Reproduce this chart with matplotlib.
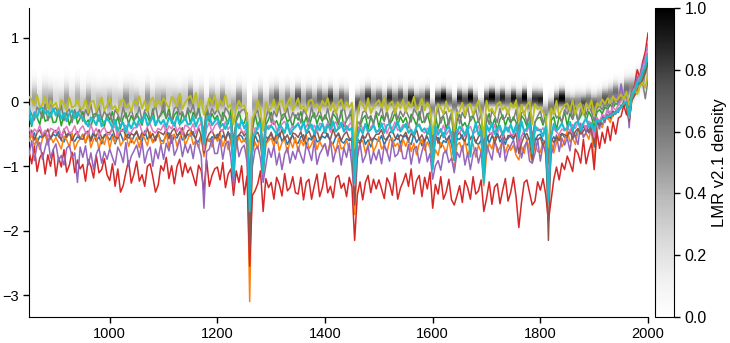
import numpy as np
import matplotlib
matplotlib.use("Agg")
import matplotlib.pyplot as plt

plt.rcParams['font.family'] = ['Liberation Sans', 'DejaVu Sans']
plt.rcParams['font.size'] = 10.5

# reconstruction years, 5-year steps
years = np.arange(850, 2001, 5)

# temperature anomaly reconstructions (degC), one list per reconstruction
c0 = [-0.61, -0.51, -0.48, -0.64, -0.53, -0.56, -0.46, -0.59, -0.57, -0.50,
      -0.53, -0.46, -0.60, -0.62, -0.51, -0.47, -0.58, -0.61, -0.54, -0.57,
      -0.50, -0.63, -0.52, -0.57, -0.46, -0.61, -0.54, -0.65, -0.51, -0.53,
      -0.59, -0.50, -0.65, -0.54, -0.49, -0.60, -0.57, -0.48, -0.63, -0.53,
      -0.47, -0.57, -0.61, -0.45, -0.58, -0.51, -0.63, -0.54, -0.49, -0.60,
      -0.61, -0.51, -0.48, -0.64, -0.53, -0.56, -0.46, -0.59, -0.57, -0.50,
      -0.53, -0.46, -0.60, -0.62, -0.51, -0.80, -0.58, -0.61, -0.54, -0.57,
      -0.50, -0.63, -0.52, -0.57, -0.46, -0.61, -0.95, -0.65, -0.51, -0.53,
      -0.61, -0.52, -1.60, -0.70, -0.51, -0.62, -0.59, -1.00, -0.65, -0.55,
      -0.50, -0.60, -0.64, -0.48, -0.61, -0.54, -0.66, -0.57, -0.52, -0.63,
      -0.64, -0.54, -0.51, -0.67, -0.56, -0.59, -0.49, -0.62, -0.60, -0.53,
      -0.56, -0.49, -0.63, -0.65, -0.54, -0.50, -0.61, -0.64, -0.57, -0.60,
      -0.55, -1.40, -0.57, -0.62, -0.51, -0.66, -0.59, -0.70, -0.56, -0.58,
      -0.61, -0.52, -0.67, -0.56, -0.51, -0.62, -0.59, -0.50, -0.65, -0.55,
      -0.52, -0.62, -0.66, -0.50, -0.63, -0.56, -0.68, -0.59, -0.54, -0.65,
      -0.95, -0.58, -0.55, -0.71, -0.60, -0.63, -0.53, -0.66, -0.90, -0.57,
      -0.58, -0.51, -0.65, -0.67, -0.56, -0.52, -0.63, -0.66, -0.59, -1.10,
      -0.51, -0.64, -0.53, -0.58, -0.47, -0.62, -0.55, -0.66, -0.52, -0.54,
      -0.58, -0.49, -0.75, -0.53, -0.48, -0.59, -0.56, -0.85, -0.62, -0.52,
      -0.50, -0.60, -0.64, -1.30, -0.61, -0.54, -0.62, -0.53, -0.49, -0.55,
      -0.55, -0.46, -0.43, -0.55, -0.44, -0.46, -0.37, -0.47, -0.43, -0.36,
      -0.70, -0.34, -0.30, -0.36, -0.24, -0.26, -0.17, -0.22, -0.14, -0.16,
      -0.05, -0.08, 0.02, -0.28, 0.06, 0.12, 0.22, 0.30, 0.40, 0.55,
      0.72]

c1 = [-0.61, -0.48, -0.69, -0.56, -0.74, -0.57, -0.50, -0.67, -0.54, -0.63,
      -0.55, -0.64, -0.73, -0.53, -0.59, -0.70, -0.48, -0.74, -0.63, -0.57,
      -0.51, -0.64, -0.47, -0.71, -0.58, -0.53, -0.74, -0.55, -0.66, -0.50,
      -0.72, -0.54, -0.63, -0.46, -0.68, -0.61, -0.49, -0.69, -0.56, -0.65,
      -0.55, -0.71, -0.50, -0.57, -0.68, -0.46, -0.63, -0.60, -0.49, -0.65,
      -0.64, -0.48, -0.70, -0.53, -0.50, -0.69, -0.56, -0.45, -0.67, -0.58,
      -0.47, -0.66, -0.60, -0.71, -0.52, -0.85, -0.62, -0.57, -0.70, -0.51,
      -0.61, -0.48, -0.69, -0.56, -0.74, -0.57, -1.00, -0.67, -0.54, -0.63,
      -0.58, -0.67, -3.10, -0.80, -0.62, -0.73, -0.51, -1.15, -0.66, -0.60,
      -0.56, -0.69, -0.52, -0.76, -0.63, -0.58, -0.79, -0.60, -0.71, -0.55,
      -0.77, -0.59, -0.68, -0.51, -0.73, -0.66, -0.54, -0.74, -0.61, -0.70,
      -0.65, -0.81, -0.60, -0.67, -0.78, -0.56, -0.73, -0.70, -0.59, -0.75,
      -0.74, -1.75, -0.85, -0.63, -0.60, -0.79, -0.66, -0.55, -0.77, -0.68,
      -0.54, -0.73, -0.67, -0.78, -0.59, -0.56, -0.69, -0.64, -0.77, -0.58,
      -0.69, -0.56, -0.77, -0.64, -0.82, -0.65, -0.58, -0.75, -0.62, -0.71,
      -1.00, -0.74, -0.83, -0.63, -0.69, -0.80, -0.58, -0.84, -1.05, -0.67,
      -0.63, -0.76, -0.59, -0.83, -0.70, -0.65, -0.86, -0.67, -0.78, -1.30,
      -0.82, -0.64, -0.73, -0.56, -0.78, -0.71, -0.59, -0.79, -0.66, -0.75,
      -0.67, -0.83, -0.90, -0.69, -0.80, -0.58, -0.75, -0.95, -0.61, -0.77,
      -0.78, -0.61, -0.82, -1.40, -0.60, -0.79, -0.63, -0.49, -0.70, -0.60,
      -0.44, -0.62, -0.56, -0.66, -0.46, -0.42, -0.54, -0.48, -0.58, -0.39,
      -1.00, -0.45, -0.34, -0.40, -0.26, -0.24, -0.32, -0.18, -0.17, -0.14,
      -0.10, 0.00, -0.08, -0.30, 0.06, 0.10, 0.24, 0.26, 0.40, 0.48,
      0.70]

c2 = [-0.22, -0.38, -0.17, -0.24, -0.35, -0.13, -0.30, -0.27, -0.16, -0.32,
      -0.31, -0.15, -0.37, -0.20, -0.17, -0.36, -0.23, -0.12, -0.34, -0.25,
      -0.15, -0.34, -0.28, -0.39, -0.20, -0.17, -0.30, -0.25, -0.38, -0.19,
      -0.28, -0.15, -0.36, -0.23, -0.41, -0.24, -0.17, -0.34, -0.21, -0.30,
      -0.18, -0.27, -0.36, -0.16, -0.22, -0.33, -0.11, -0.37, -0.26, -0.20,
      -0.13, -0.26, -0.09, -0.33, -0.20, -0.15, -0.36, -0.17, -0.28, -0.12,
      -0.34, -0.16, -0.25, -0.08, -0.30, -0.55, -0.11, -0.31, -0.18, -0.27,
      -0.21, -0.37, -0.16, -0.23, -0.34, -0.12, -0.70, -0.26, -0.15, -0.31,
      -0.33, -0.17, -1.30, -0.45, -0.19, -0.38, -0.25, -0.80, -0.36, -0.27,
      -0.16, -0.35, -0.29, -0.40, -0.21, -0.18, -0.31, -0.26, -0.39, -0.20,
      -0.28, -0.15, -0.36, -0.23, -0.41, -0.24, -0.17, -0.34, -0.21, -0.30,
      -0.20, -0.29, -0.38, -0.18, -0.24, -0.35, -0.13, -0.39, -0.28, -0.22,
      -0.19, -1.10, -0.40, -0.39, -0.26, -0.21, -0.42, -0.23, -0.34, -0.18,
      -0.39, -0.21, -0.30, -0.13, -0.35, -0.28, -0.16, -0.36, -0.23, -0.32,
      -0.24, -0.40, -0.19, -0.26, -0.37, -0.15, -0.32, -0.29, -0.18, -0.34,
      -0.75, -0.20, -0.42, -0.25, -0.22, -0.41, -0.28, -0.17, -0.70, -0.30,
      -0.19, -0.38, -0.32, -0.43, -0.24, -0.21, -0.34, -0.29, -0.42, -0.85,
      -0.31, -0.18, -0.39, -0.26, -0.44, -0.27, -0.20, -0.37, -0.24, -0.33,
      -0.23, -0.32, -0.55, -0.21, -0.27, -0.38, -0.16, -0.65, -0.31, -0.25,
      -0.24, -0.36, -0.19, -1.05, -0.29, -0.23, -0.43, -0.22, -0.32, -0.15,
      -0.37, -0.18, -0.27, -0.09, -0.30, -0.22, -0.10, -0.29, -0.15, -0.23,
      -0.40, -0.16, -0.12, -0.18, -0.08, -0.11, -0.04, -0.09, -0.02, -0.05,
      0.05, 0.10, 0.06, -0.18, 0.15, 0.22, 0.28, 0.35, 0.42, 0.50,
      0.62]

c3 = [-0.76, -0.96, -0.69, -1.08, -0.87, -0.79, -1.12, -0.82, -1.00, -0.74,
      -1.15, -0.86, -1.01, -0.74, -1.09, -0.98, -0.78, -1.10, -0.90, -1.04,
      -0.97, -1.23, -0.89, -1.00, -1.18, -0.83, -1.10, -1.05, -0.88, -1.13,
      -1.22, -0.96, -1.31, -1.04, -1.40, -1.30, -1.09, -0.91, -1.26, -1.12,
      -0.92, -1.23, -1.13, -1.31, -1.00, -0.96, -1.16, -1.40, -1.29, -0.99,
      -1.07, -0.86, -1.19, -0.99, -1.27, -1.00, -0.89, -1.16, -0.95, -1.10,
      -1.01, -1.15, -1.30, -0.98, -1.07, -1.38, -0.90, -1.31, -1.14, -1.04,
      -1.01, -1.21, -0.94, -1.33, -1.12, -1.04, -1.45, -1.07, -1.25, -0.99,
      -1.44, -1.15, -2.55, -1.45, -1.38, -1.27, -1.07, -1.70, -1.19, -1.33,
      -1.25, -1.51, -1.17, -1.28, -1.46, -1.11, -1.38, -1.33, -1.16, -1.41,
      -1.43, -1.17, -1.52, -1.25, -1.20, -1.51, -1.30, -1.12, -1.47, -1.33,
      -1.10, -1.41, -1.31, -1.49, -1.18, -1.14, -1.34, -1.26, -1.47, -1.17,
      -1.32, -2.15, -1.44, -1.24, -1.52, -1.25, -1.14, -1.41, -1.20, -1.35,
      -1.21, -1.35, -1.50, -1.18, -1.27, -1.45, -1.10, -1.51, -1.34, -1.24,
      -1.11, -1.31, -1.04, -1.43, -1.22, -1.14, -1.47, -1.17, -1.35, -1.09,
      -1.65, -1.28, -1.43, -1.16, -1.51, -1.40, -1.20, -1.52, -1.60, -1.46,
      -1.30, -1.56, -1.22, -1.33, -1.51, -1.16, -1.43, -1.38, -1.21, -1.70,
      -1.50, -1.24, -1.59, -1.32, -1.27, -1.58, -1.37, -1.19, -1.54, -1.40,
      -1.17, -1.48, -1.95, -1.56, -1.25, -1.21, -1.41, -1.60, -1.54, -1.24,
      -1.37, -1.19, -1.44, -1.85, -1.52, -1.20, -1.01, -1.21, -0.95, -1.05,
      -0.84, -0.95, -1.08, -0.73, -0.80, -0.95, -0.58, -0.96, -0.77, -0.64,
      -1.05, -0.45, -0.72, -0.47, -0.64, -0.38, -0.60, -0.31, -0.50, -0.25,
      -0.22, -0.05, -0.20, 0.00, 0.15, 0.25, 0.50, 0.38, 0.62, 0.78,
      1.07]

c4 = [-0.82, -0.60, -0.91, -0.67, -0.63, -0.89, -0.71, -0.56, -0.87, -0.74,
      -0.65, -0.91, -0.83, -0.98, -0.72, -0.67, -0.86, -0.79, -1.25, -0.70,
      -0.86, -0.68, -0.98, -0.79, -1.05, -0.81, -0.71, -0.95, -0.77, -0.89,
      -0.73, -0.86, -0.98, -0.70, -0.79, -0.94, -0.63, -1.00, -0.84, -0.76,
      -0.67, -0.86, -0.62, -0.95, -0.77, -0.70, -1.00, -0.73, -0.88, -0.66,
      -0.89, -0.64, -0.76, -0.52, -0.83, -0.73, -0.57, -0.85, -0.66, -0.79,
      -0.66, -0.88, -0.59, -0.69, -0.84, -1.65, -0.77, -0.73, -0.57, -0.80,
      -0.80, -0.58, -0.89, -0.65, -0.61, -0.87, -1.30, -0.54, -0.85, -0.72,
      -0.67, -0.93, -1.85, -1.00, -0.74, -0.69, -0.88, -1.25, -0.99, -0.72,
      -0.86, -0.68, -0.98, -0.79, -1.05, -0.81, -0.71, -0.95, -0.77, -0.89,
      -0.70, -0.83, -0.95, -0.67, -0.76, -0.91, -0.60, -0.97, -0.81, -0.73,
      -0.65, -0.84, -0.60, -0.93, -0.75, -0.68, -0.98, -0.71, -0.86, -0.64,
      -1.00, -1.55, -0.87, -0.63, -0.94, -0.84, -0.68, -0.96, -0.77, -0.90,
      -0.74, -0.96, -0.67, -0.77, -0.92, -0.61, -0.85, -0.81, -0.65, -0.88,
      -0.88, -0.66, -0.97, -0.73, -0.69, -0.95, -0.77, -0.62, -0.93, -0.80,
      -1.20, -0.99, -0.91, -1.06, -0.80, -0.75, -0.94, -0.87, -1.10, -0.78,
      -0.86, -0.68, -0.98, -0.79, -1.05, -0.81, -0.71, -0.95, -0.77, -1.20,
      -0.65, -0.78, -0.90, -0.62, -0.71, -0.86, -0.55, -0.92, -0.76, -0.68,
      -0.59, -0.78, -0.54, -0.87, -0.69, -0.62, -0.92, -0.95, -0.80, -0.58,
      -0.92, -0.66, -0.78, -1.50, -0.82, -0.69, -0.51, -0.77, -0.56, -0.67,
      -0.56, -0.76, -0.45, -0.54, -0.66, -0.33, -0.55, -0.48, -0.31, -0.50,
      -0.60, -0.25, -0.42, -0.18, -0.32, -0.10, -0.24, -0.02, 0.12, -0.05,
      0.28, 0.02, 0.15, -0.40, 0.18, 0.22, 0.38, 0.42, 0.58, 0.70,
      0.90]

c5 = [-0.53, -0.44, -0.59, -0.48, -0.43, -0.54, -0.51, -0.42, -0.57, -0.47,
      -0.44, -0.54, -0.58, -0.42, -0.55, -0.48, -0.60, -0.51, -0.46, -0.57,
      -0.58, -0.48, -0.45, -0.61, -0.50, -0.53, -0.43, -0.56, -0.54, -0.47,
      -0.48, -0.41, -0.55, -0.57, -0.46, -0.42, -0.53, -0.56, -0.49, -0.52,
      -0.45, -0.58, -0.47, -0.52, -0.41, -0.56, -0.49, -0.60, -0.46, -0.48,
      -0.51, -0.42, -0.57, -0.46, -0.41, -0.52, -0.49, -0.40, -0.55, -0.45,
      -0.42, -0.52, -0.56, -0.40, -0.53, -0.80, -0.58, -0.49, -0.44, -0.55,
      -0.56, -0.46, -0.43, -0.59, -0.48, -0.51, -0.95, -0.54, -0.52, -0.45,
      -0.53, -0.46, -2.30, -0.75, -0.51, -0.47, -0.58, -1.05, -0.54, -0.57,
      -0.47, -0.60, -0.49, -0.54, -0.43, -0.58, -0.51, -0.62, -0.48, -0.50,
      -0.55, -0.46, -0.61, -0.50, -0.45, -0.56, -0.53, -0.44, -0.59, -0.49,
      -0.44, -0.54, -0.58, -0.42, -0.55, -0.48, -0.60, -0.51, -0.46, -0.57,
      -0.61, -1.60, -0.62, -0.64, -0.53, -0.56, -0.46, -0.59, -0.57, -0.50,
      -0.50, -0.43, -0.57, -0.59, -0.48, -0.44, -0.55, -0.58, -0.51, -0.54,
      -0.47, -0.60, -0.49, -0.54, -0.43, -0.58, -0.51, -0.62, -0.48, -0.50,
      -0.95, -0.49, -0.64, -0.53, -0.48, -0.59, -0.56, -0.47, -0.90, -0.52,
      -0.47, -0.57, -0.61, -0.45, -0.58, -0.51, -0.63, -0.54, -0.49, -1.15,
      -0.61, -0.51, -0.48, -0.64, -0.53, -0.56, -0.46, -0.59, -0.57, -0.50,
      -0.55, -0.48, -0.80, -0.64, -0.53, -0.49, -0.60, -0.90, -0.56, -0.59,
      -0.55, -0.68, -0.58, -2.15, -0.56, -0.63, -0.54, -0.60, -0.49, -0.51,
      -0.53, -0.44, -0.57, -0.46, -0.41, -0.50, -0.45, -0.37, -0.48, -0.40,
      -0.65, -0.32, -0.36, -0.24, -0.28, -0.20, -0.26, -0.14, -0.19, -0.10,
      -0.08, 0.00, -0.05, -0.30, 0.02, 0.10, 0.18, 0.25, 0.35, 0.45,
      0.60]

c6 = [-0.40, -0.53, -0.42, -0.47, -0.36, -0.51, -0.44, -0.55, -0.41, -0.43,
      -0.48, -0.39, -0.54, -0.43, -0.38, -0.49, -0.46, -0.37, -0.52, -0.42,
      -0.37, -0.47, -0.51, -0.35, -0.48, -0.41, -0.53, -0.44, -0.39, -0.50,
      -0.51, -0.41, -0.38, -0.54, -0.43, -0.46, -0.36, -0.49, -0.47, -0.40,
      -0.40, -0.33, -0.47, -0.49, -0.38, -0.34, -0.45, -0.48, -0.41, -0.44,
      -0.35, -0.48, -0.37, -0.42, -0.31, -0.46, -0.39, -0.50, -0.36, -0.38,
      -0.43, -0.34, -0.49, -0.38, -0.33, -0.75, -0.41, -0.32, -0.47, -0.37,
      -0.32, -0.42, -0.46, -0.30, -0.43, -0.36, -0.85, -0.39, -0.34, -0.45,
      -0.48, -0.38, -1.50, -0.60, -0.40, -0.43, -0.33, -0.95, -0.44, -0.37,
      -0.36, -0.29, -0.43, -0.45, -0.34, -0.30, -0.41, -0.44, -0.37, -0.40,
      -0.32, -0.45, -0.34, -0.39, -0.28, -0.43, -0.36, -0.47, -0.33, -0.35,
      -0.41, -0.32, -0.47, -0.36, -0.31, -0.42, -0.39, -0.30, -0.45, -0.35,
      -0.32, -1.30, -0.55, -0.30, -0.43, -0.36, -0.48, -0.39, -0.34, -0.45,
      -0.46, -0.36, -0.33, -0.49, -0.38, -0.41, -0.31, -0.44, -0.42, -0.35,
      -0.40, -0.33, -0.47, -0.49, -0.38, -0.34, -0.45, -0.48, -0.41, -0.44,
      -0.85, -0.53, -0.42, -0.47, -0.36, -0.51, -0.44, -0.55, -0.80, -0.43,
      -0.48, -0.39, -0.54, -0.43, -0.38, -0.49, -0.46, -0.37, -0.52, -0.95,
      -0.37, -0.47, -0.51, -0.35, -0.48, -0.41, -0.53, -0.44, -0.39, -0.50,
      -0.51, -0.41, -0.70, -0.54, -0.43, -0.46, -0.36, -0.75, -0.47, -0.40,
      -0.46, -0.40, -0.52, -1.20, -0.48, -0.41, -0.47, -0.50, -0.42, -0.45,
      -0.38, -0.46, -0.35, -0.41, -0.32, -0.40, -0.34, -0.42, -0.30, -0.33,
      -0.55, -0.24, -0.30, -0.20, -0.22, -0.12, -0.17, -0.08, -0.13, -0.04,
      0.02, 0.08, 0.05, -0.25, 0.12, 0.20, 0.30, 0.38, 0.50, 0.65,
      0.88]

c7 = [-0.10, -0.19, -0.28, -0.08, -0.14, -0.25, -0.03, -0.29, -0.18, -0.12,
      -0.09, -0.22, -0.05, -0.29, -0.16, -0.11, -0.32, -0.13, -0.24, -0.08,
      -0.30, -0.12, -0.21, -0.04, -0.26, -0.19, -0.07, -0.27, -0.14, -0.23,
      -0.17, -0.33, -0.12, -0.19, -0.30, -0.08, -0.25, -0.22, -0.11, -0.27,
      -0.24, -0.08, -0.30, -0.13, -0.10, -0.29, -0.16, -0.05, -0.27, -0.18,
      -0.05, -0.24, -0.18, -0.29, -0.10, -0.07, -0.20, -0.15, -0.28, -0.09,
      -0.17, -0.04, -0.25, -0.12, -0.30, -0.45, -0.06, -0.23, -0.10, -0.19,
      -0.11, -0.20, -0.29, -0.09, -0.15, -0.26, -0.60, -0.30, -0.19, -0.13,
      -0.11, -0.24, -1.20, -0.40, -0.18, -0.13, -0.34, -0.70, -0.26, -0.10,
      -0.32, -0.14, -0.23, -0.06, -0.28, -0.21, -0.09, -0.29, -0.16, -0.25,
      -0.17, -0.33, -0.12, -0.19, -0.30, -0.08, -0.25, -0.22, -0.11, -0.27,
      -0.26, -0.10, -0.32, -0.15, -0.12, -0.31, -0.18, -0.07, -0.29, -0.20,
      -0.11, -1.00, -0.30, -0.35, -0.16, -0.13, -0.26, -0.21, -0.34, -0.15,
      -0.21, -0.08, -0.29, -0.16, -0.34, -0.17, -0.10, -0.27, -0.14, -0.23,
      -0.13, -0.22, -0.31, -0.11, -0.17, -0.28, -0.06, -0.32, -0.21, -0.15,
      -0.65, -0.26, -0.09, -0.33, -0.20, -0.15, -0.36, -0.17, -0.60, -0.12,
      -0.34, -0.16, -0.25, -0.08, -0.30, -0.23, -0.11, -0.31, -0.18, -0.75,
      -0.19, -0.35, -0.14, -0.21, -0.32, -0.10, -0.27, -0.24, -0.13, -0.29,
      -0.28, -0.12, -0.45, -0.17, -0.14, -0.33, -0.20, -0.55, -0.31, -0.22,
      -0.14, -0.32, -0.26, -0.95, -0.16, -0.13, -0.25, -0.20, -0.31, -0.12,
      -0.19, -0.06, -0.26, -0.13, -0.30, -0.12, -0.04, -0.20, -0.07, -0.15,
      -0.30, -0.10, -0.06, -0.12, -0.03, -0.07, 0.00, -0.04, 0.03, 0.00,
      0.08, 0.04, 0.12, -0.15, 0.12, 0.18, 0.15, 0.25, 0.30, 0.05,
      0.35]

c8 = [0.08, 0.03, -0.05, 0.11, -0.09, -0.03, 0.08, -0.10, 0.02, -0.07,
      -0.01, -0.16, 0.03, -0.03, -0.13, 0.07, -0.09, -0.06, 0.04, -0.10,
      -0.10, 0.04, -0.16, 0.00, 0.02, -0.15, -0.03, 0.07, -0.13, -0.05,
      0.06, -0.11, -0.06, -0.16, 0.01, 0.04, -0.08, -0.03, -0.15, 0.02,
      -0.03, 0.09, -0.10, 0.02, -0.15, 0.01, 0.07, -0.08, 0.03, -0.05,
      0.06, -0.02, -0.10, 0.08, 0.03, -0.07, 0.13, -0.11, -0.01, 0.05,
      0.10, -0.02, 0.14, -0.08, 0.04, -0.20, -0.11, 0.07, -0.03, 0.11,
      -0.13, 0.03, -0.05, 0.11, -0.09, -0.03, -0.35, -0.10, 0.02, -0.07,
      -0.05, -0.20, -0.80, -0.25, -0.17, 0.03, -0.13, -0.45, 0.00, -0.14,
      -0.10, 0.04, -0.16, 0.00, 0.02, -0.15, -0.03, 0.07, -0.13, -0.05,
      0.06, -0.11, -0.06, -0.16, 0.01, 0.04, -0.08, -0.03, -0.15, 0.02,
      -0.06, 0.06, -0.13, -0.01, -0.18, -0.02, 0.04, -0.11, 0.00, -0.08,
      -0.01, -0.70, -0.20, 0.01, -0.04, -0.14, 0.06, -0.18, -0.08, -0.02,
      0.03, -0.09, 0.07, -0.15, -0.03, 0.01, -0.18, 0.00, -0.10, 0.04,
      -0.16, 0.00, -0.08, 0.08, -0.12, -0.06, 0.05, -0.13, -0.01, -0.10,
      -0.50, -0.22, -0.03, -0.09, -0.19, 0.01, -0.15, -0.12, -0.45, -0.16,
      -0.15, -0.01, -0.21, -0.05, -0.03, -0.20, -0.08, 0.02, -0.18, -0.55,
      0.02, -0.15, -0.10, -0.20, -0.03, 0.00, -0.12, -0.07, -0.19, -0.02,
      -0.09, 0.03, -0.30, -0.04, -0.21, -0.05, 0.01, -0.35, -0.03, -0.11,
      -0.08, -0.16, -0.24, -0.70, -0.10, -0.19, 0.02, -0.22, -0.11, -0.05,
      -0.02, -0.14, 0.03, -0.19, -0.06, -0.02, -0.20, -0.02, -0.11, 0.03,
      -0.20, -0.02, -0.06, 0.04, -0.03, 0.06, -0.02, 0.09, 0.02, 0.06,
      0.12, 0.04, 0.16, -0.05, 0.10, 0.20, 0.12, 0.25, 0.30, 0.22,
      0.45]

c9 = [-0.07, -0.35, -0.16, -0.24, -0.11, -0.09, -0.18, -0.14, -0.23, -0.10,
      -0.21, -0.12, -0.26, -0.17, -0.30, -0.18, -0.13, -0.25, -0.16, -0.22,
      -0.25, -0.31, -0.38, -0.24, -0.28, -0.36, -0.20, -0.38, -0.31, -0.26,
      -0.31, -0.40, -0.28, -0.45, -0.36, -0.32, -0.47, -0.33, -0.41, -0.30,
      -0.38, -0.26, -0.32, -0.20, -0.36, -0.31, -0.22, -0.36, -0.27, -0.34,
      -0.28, -0.39, -0.24, -0.29, -0.37, -0.22, -0.34, -0.31, -0.24, -0.35,
      -0.34, -0.23, -0.38, -0.26, -0.24, -0.65, -0.29, -0.21, -0.36, -0.30,
      -0.25, -0.39, -0.34, -0.42, -0.29, -0.27, -1.15, -0.32, -0.41, -0.28,
      -0.41, -0.32, -1.70, -0.55, -0.50, -0.38, -0.33, -1.10, -0.36, -0.42,
      -0.37, -0.43, -0.50, -0.36, -0.40, -0.48, -0.32, -0.50, -0.43, -0.38,
      -0.34, -0.43, -0.31, -0.48, -0.39, -0.35, -0.50, -0.36, -0.44, -0.33,
      -0.48, -0.36, -0.42, -0.30, -0.46, -0.41, -0.32, -0.46, -0.37, -0.44,
      -0.40, -1.25, -0.55, -0.41, -0.49, -0.34, -0.46, -0.43, -0.36, -0.47,
      -0.44, -0.33, -0.48, -0.36, -0.34, -0.48, -0.39, -0.31, -0.46, -0.40,
      -0.34, -0.48, -0.43, -0.51, -0.38, -0.36, -0.45, -0.41, -0.50, -0.37,
      -1.05, -0.37, -0.51, -0.42, -0.55, -0.43, -0.38, -0.50, -0.90, -0.47,
      -0.38, -0.44, -0.51, -0.37, -0.85, -0.49, -0.33, -0.51, -0.44, -1.25,
      -0.36, -0.45, -0.33, -0.50, -0.41, -0.37, -0.52, -0.38, -0.46, -0.35,
      -0.48, -0.36, -0.55, -0.30, -0.46, -0.41, -0.32, -0.80, -0.37, -0.44,
      -0.43, -0.53, -0.38, -1.55, -0.55, -0.34, -0.45, -0.40, -0.33, -0.43,
      -0.42, -0.31, -0.45, -0.33, -0.30, -0.44, -0.33, -0.25, -0.39, -0.33,
      -0.45, -0.28, -0.30, -0.27, -0.26, -0.22, -0.22, -0.18, -0.17, -0.12,
      -0.08, -0.02, 0.00, -0.22, 0.12, 0.16, 0.30, 0.33, 0.46, 0.55,
      0.75]

recons = [c0, c1, c2, c3, c4, c5, c6, c7, c8, c9]
line_widths = [1.1, 1.1, 1.1, 1.1, 1.1, 1.1, 1.1, 1.1, 1.3, 1.5]

# LMR v2.1 ensemble: decadal centre, weight and 50-year spread of the distribution
dens_years = np.arange(850, 2001, 10)
dens_center = [0.00, 0.05, -0.02, 0.06, 0.00, 0.03, -0.03, 0.04, 0.01, 0.06,
               -0.02, 0.02, 0.05, -0.01, 0.03,
               0.00, 0.04, -0.02, 0.03, 0.06, 0.00, 0.02, 0.05, -0.01, 0.04,
               0.01, 0.06, 0.02, -0.02, 0.05, 0.07, 0.01, 0.04, -0.08, 0.03,
               0.00, 0.05, 0.02, -0.05, 0.04, 0.01, -0.30, -0.05, 0.03, -0.06,
               0.04, 0.06, 0.02, 0.05, 0.00, 0.07, 0.03, 0.05, 0.01, 0.06,
               0.03, 0.07, 0.02, 0.06, 0.04, -0.20, -0.02, 0.05, 0.08, 0.03,
               0.06, 0.02, 0.07, 0.04, 0.08, 0.03, 0.06, 0.01, 0.05, 0.07,
               -0.10, 0.05, 0.08, 0.04, -0.05, 0.06, 0.03, 0.07, 0.02, -0.08,
               0.05, 0.08, 0.04, 0.07, 0.03, 0.06, 0.02, 0.07, -0.03, 0.05,
               0.04, -0.15, -0.08, 0.02, 0.06, -0.02, -0.05, 0.00, -0.03, 0.02,
               -0.03, 0.02, 0.05, 0.10, 0.15, 0.12, 0.20, 0.22, 0.30, 0.38,
               0.50]
dens_weight = [0.55, 0.80, 0.50, 0.70, 0.90, 0.45, 0.65, 0.85, 0.50, 0.75,
               0.60, 0.90, 0.50, 0.70, 0.55,
               0.80, 0.50, 0.65, 0.90, 0.55, 0.75, 0.45, 0.85, 0.60, 0.70,
               0.90, 0.50, 0.65, 0.80, 0.55, 0.95, 0.60, 0.70, 0.50, 0.80,
               0.60, 0.85, 0.50, 0.70, 0.90, 0.55, 0.40, 0.70, 0.85, 0.60,
               0.75, 0.95, 0.55, 0.80, 0.65, 1.00, 0.60, 0.85, 0.70, 0.90,
               0.75, 1.00, 0.60, 0.85, 0.70, 0.45, 0.90, 0.65, 1.00, 0.70,
               0.80, 0.60, 0.95, 0.70, 0.85, 0.60, 1.00, 0.75, 0.65, 0.90,
               0.55, 0.85, 1.00, 0.70, 0.60, 0.90, 0.75, 1.00, 0.65, 0.55,
               0.85, 1.00, 0.70, 0.90, 0.65, 0.95, 0.75, 1.00, 0.60, 0.85,
               0.90, 0.50, 0.60, 0.85, 1.00, 0.70, 0.80, 0.60, 0.85, 0.70,
               0.75, 0.60, 0.80, 0.65, 0.70, 0.60, 0.75, 0.65, 0.70, 0.60,
               0.50]
dens_spread = [0.17, 0.17, 0.17, 0.16, 0.16, 0.16, 0.15, 0.15, 0.15, 0.14,
               0.13, 0.12, 0.12, 0.11, 0.11, 0.10, 0.10, 0.10, 0.10, 0.10,
               0.11, 0.11, 0.12, 0.12]

temp_grid = np.linspace(-3.4, 1.5, 491)
center = np.array(dens_center)
weight = np.array(dens_weight)
spread = np.repeat(dens_spread, 5)[:len(dens_years)]
density = weight * np.exp(-0.5 * ((temp_grid[:, None] - center) / spread) ** 2) * (min(dens_spread) / spread)
density = density / density.max()

fig = plt.figure(figsize=(7.3, 3.43), dpi=100)
ax = fig.add_axes([29 / 730, 26 / 343, 619 / 730, 309 / 343])
cax = fig.add_axes([655 / 730, 26 / 343, 19 / 730, 309 / 343])

mesh = ax.pcolormesh(dens_years, temp_grid, density, cmap='Greys', vmin=0, vmax=1,
                     shading='nearest', zorder=0, rasterized=True)

for i, (vals, lw) in enumerate(zip(recons, line_widths)):
    ax.plot(years, vals, color=f'C{i}', lw=lw, zorder=2 + i)

ax.set_xlim(850, 2000)
ax.set_ylim(-3.34, 1.46)
ax.set_xticks([1000, 1200, 1400, 1600, 1800, 2000])
ax.set_yticks([-3, -2, -1, 0, 1])
ax.spines['top'].set_visible(False)
ax.spines['right'].set_visible(False)
ax.tick_params(direction='out', length=4, width=1)

cb = fig.colorbar(mesh, cax=cax)
cb.set_ticks([0.0, 0.2, 0.4, 0.6, 0.8, 1.0])
cb.set_label('LMR v2.1 density', fontsize=12)
cb.ax.tick_params(length=4, width=1, labelsize=11.5)

fig.savefig('out.png', dpi=100)
